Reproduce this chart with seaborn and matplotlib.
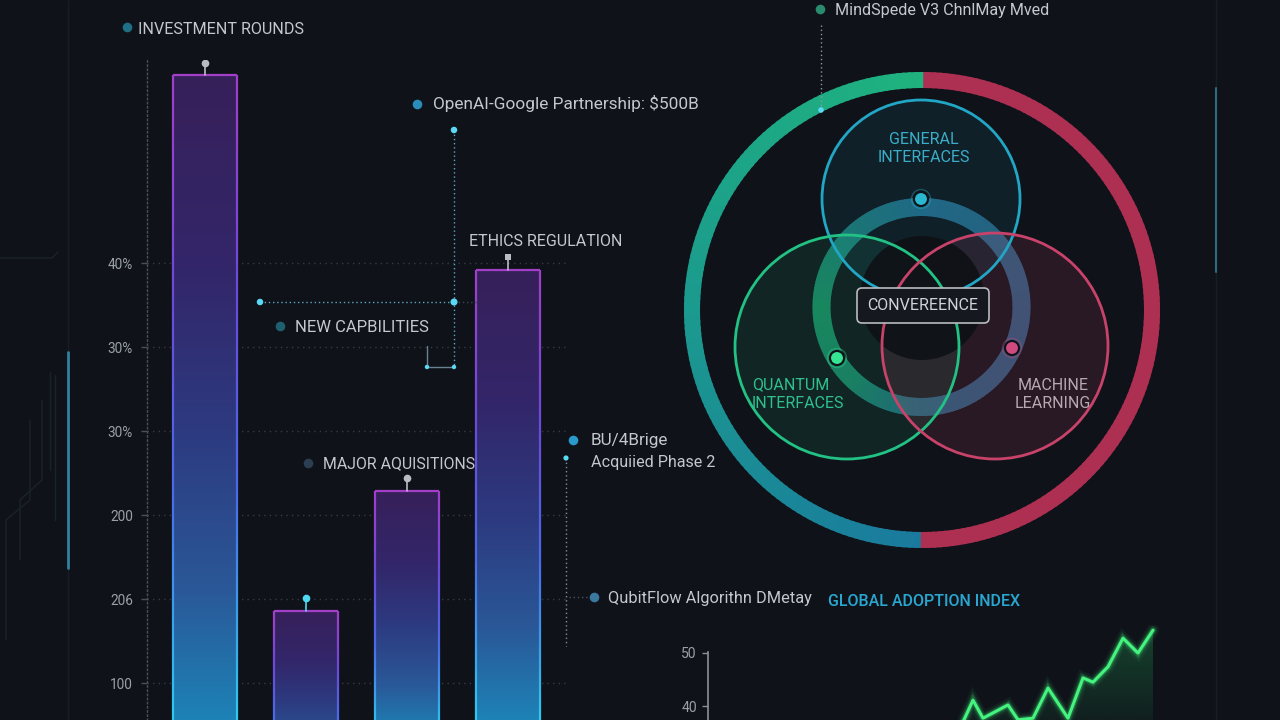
import numpy as np
import matplotlib
matplotlib.use("Agg")
import matplotlib.pyplot as plt
import seaborn as sns
from matplotlib.patches import Wedge, Circle, FancyBboxPatch
from matplotlib.collections import LineCollection
from matplotlib.colors import LinearSegmentedColormap, to_rgb

# ---------------- data ----------------
bar_categories = ["Round A", "Round B", "Round C", "Round D"]
bar_values = [824, 186, 329, 592]
stem_colors = ["#b8bcc4", "#4fd8f0", "#b8bcc4", "#b8bcc4"]
stem_markers = ["o", "o", "o", "s"]
bar_ticks = [100, 200, 300, 400, 500, 600]
bar_tick_labels = ["100", "206", "200", "30%", "30%", "40%"]

adoption_x = [51, 53, 55, 60, 62, 65, 68, 72, 75, 77, 80, 83, 86, 89]
adoption_y = [37.0, 41.1, 37.7, 40.2, 37.4, 37.7, 43.4, 37.7, 45.3, 44.5, 47.4, 52.8, 50.0, 54.3]
adoption_ticks = [40, 50]

venn_sets = ["GENERAL\nINTERFACES", "QUANTUM\nINTERFACES", "MACHINE\nLEARNING"]
venn_colors = ["#22a6c6", "#22c285", "#c8426a"]
venn_label_colors = ["#3aaec8", "#2fc08e", "#b8a8b0"]
venn_center_label = "CONVEREENCE"

BG = "#0f1319"
TXT = "#c4c8ce"

sns.set_theme(style="dark")
plt.rcParams["font.family"] = ["Roboto", "DejaVu Sans"]

fig = plt.figure(figsize=(12.8, 7.2), dpi=100)
fig.patch.set_facecolor(BG)

W, H = 1280.0, 720.0

# ---------------- background decoration axes ----------------
ax_bg = fig.add_axes([0, 0, 1, 1], zorder=0)
ax_bg.set_xlim(0, W); ax_bg.set_ylim(H, 0); ax_bg.axis("off")
ax_bg.patch.set_alpha(0)
ax_bg.plot([68, 68], [0, H], color="#161d26", lw=1)
ax_bg.plot([68, 68], [352, 568], color="#347f9f", lw=2)
ax_bg.plot([1216, 1216], [0, H], color="#161f28", lw=1)
ax_bg.plot([1216, 1216], [88, 272], color="#2d6a82", lw=1.5)
for xs, ys in [([0, 52, 58], [258, 258, 252]), ([50, 50], [372, 470]), ([42, 42, 20, 20], [400, 480, 500, 560]),
               ([30, 30, 6, 6], [420, 500, 520, 640]), ([55, 55], [375, 520])]:
    ax_bg.plot(xs, ys, color="#1a222b", lw=1)

# ---------------- bar chart ----------------
BAR_BOTTOM, BAR_TOP = 56.0, 842.0
ax_bar = fig.add_axes([147 / W, 0, 422 / W, 660 / H], zorder=1)
ax_bar.patch.set_alpha(0)
sns.barplot(x=bar_categories, y=bar_values, ax=ax_bar, width=0.634, color="#2a3f86",
            saturation=1, edgecolor="none")
ax_bar.set_xlim(-0.574, 3.6)
ax_bar.set_ylim(BAR_BOTTOM, BAR_TOP)

fill_cmap = LinearSegmentedColormap.from_list(
    "barfill", [(0, "#1d82b6"), (0.2, "#2a5898"), (0.45, "#2d3a80"), (0.7, "#33266a"), (1, "#37205a")])
edge_cmap = LinearSegmentedColormap.from_list(
    "baredge", [(0, "#2ec8ee"), (0.35, "#4a6ae8"), (0.65, "#6a4ad8"), (1, "#a23ec8")])

for i, p in enumerate(list(ax_bar.patches)):
    x0, w, top = p.get_x(), p.get_width(), p.get_y() + p.get_height()
    k = min(1.0, 0.4 + (top - BAR_BOTTOM) / 500.0)
    yy = np.linspace(0, top, 300)
    s = np.clip((yy - BAR_BOTTOM) / (top - BAR_BOTTOM), 0, 1)
    c = 1 - (1 - s) * k
    img = fill_cmap(c)[:, None, :]
    im = ax_bar.imshow(img, extent=[x0, x0 + w, 0, top], origin="lower", aspect="auto", zorder=2)
    im.set_clip_path(p)
    p.set_facecolor("none")
    ys = np.linspace(BAR_BOTTOM - 5, top, 80)
    cs = 1 - (1 - np.clip((ys - BAR_BOTTOM) / (top - BAR_BOTTOM), 0, 1)) * k
    for xe in (x0, x0 + w):
        segs = [[(xe, ys[j]), (xe, ys[j + 1])] for j in range(len(ys) - 1)]
        lc = LineCollection(segs, colors=edge_cmap(cs[:-1]), linewidths=1.6, zorder=3)
        ax_bar.add_collection(lc)
    ax_bar.plot([x0, x0 + w], [top, top], color=edge_cmap(1.0), lw=1.6, zorder=3, solid_capstyle="butt")
    cx = x0 + w / 2
    ax_bar.plot([cx, cx], [top, top + 15], color=stem_colors[i], lw=1.2, zorder=3)
    ax_bar.plot([cx], [top + 15], marker=stem_markers[i], color=stem_colors[i],
                markersize=5.5 if stem_markers[i] == "o" else 5, zorder=4, markeredgewidth=0)

ax_bar.set_ylim(BAR_BOTTOM, BAR_TOP)
ax_bar.set_xlim(-0.574, 3.6)
ax_bar.set_yticks(bar_ticks)
ax_bar.set_yticklabels(bar_tick_labels)
ax_bar.set_xticks([])
ax_bar.set_xlabel(""); ax_bar.set_ylabel("")
ax_bar.grid(axis="y", linestyle=(0, (1, 3)), color="#353b43", lw=1)
ax_bar.grid(axis="x", visible=False)
ax_bar.set_axisbelow(True)
for side in ("top", "right", "bottom"):
    ax_bar.spines[side].set_visible(False)
ax_bar.spines["left"].set_visible(True)
ax_bar.spines["left"].set_color("#4a5058")
ax_bar.spines["left"].set_linestyle((0, (1, 2)))
ax_bar.spines["left"].set_linewidth(1)
ax_bar.tick_params(axis="y", colors="#4a5058", labelcolor="#9aa0a8", length=4, width=1,
                   labelsize=9.8, pad=6, left=True)

# ---------------- adoption line chart ----------------
L_BOTTOM, L_TOP = 37.36, 55.28
ax_line = fig.add_axes([708 / W, 0, 460 / W, 95 / H], zorder=1)
ax_line.patch.set_alpha(0)
poly = ax_line.fill_between(adoption_x, adoption_y, L_BOTTOM, color="none", lw=0)
grad = np.zeros((200, 1, 4))
gc = to_rgb("#1f7a48")
grad[..., 0], grad[..., 1], grad[..., 2] = gc
grad[:, 0, 3] = np.linspace(0.12, 0.45, 200)
gim = ax_line.imshow(grad, extent=[min(adoption_x), max(adoption_x), L_BOTTOM, max(adoption_y)],
                     origin="lower", aspect="auto", zorder=1)
gim.set_clip_path(poly.get_paths()[0], transform=ax_line.transData)
for lw, a in [(9, 0.06), (6, 0.12), (4, 0.25)]:
    ax_line.plot(adoption_x, adoption_y, color="#3cf07a", lw=lw, alpha=a, zorder=2,
                 solid_joinstyle="miter")
sns.lineplot(x=adoption_x, y=adoption_y, ax=ax_line, color="#44f47e", lw=2.2, estimator=None, zorder=3)
ax_line.set_xlim(0, 92)
ax_line.set_ylim(L_BOTTOM, L_TOP)
ax_line.set_yticks(adoption_ticks)
ax_line.set_xticks([])
ax_line.set_xlabel(""); ax_line.set_ylabel("")
ax_line.grid(False)
for side in ("top", "right", "bottom"):
    ax_line.spines[side].set_visible(False)
ax_line.spines["left"].set_visible(True)
ax_line.spines["left"].set_color("#8a9098")
ax_line.spines["left"].set_linewidth(1.2)
ax_line.spines["left"].set_bounds(L_BOTTOM, 50.2)
ax_line.tick_params(axis="y", colors="#8a9098", labelcolor="#9aa0a8", length=4, width=1,
                    labelsize=10, pad=4, left=True)

# ---------------- overlay: venn + annotations ----------------
ax = fig.add_axes([0, 0, 1, 1], zorder=5)
ax.set_xlim(0, W); ax.set_ylim(H, 0); ax.axis("off")
ax.patch.set_alpha(0)


def lerp_colors(anchors, phi):
    angs = [a for a, _ in anchors]
    cols = np.array([to_rgb(c) for _, c in anchors])
    return tuple(np.array([np.interp(phi, angs, cols[:, j]) for j in range(3)]))


def ring(cx, cy, r, w, color_fn, n=240, z=3):
    for i in range(n):
        a0 = 360.0 * i / n
        a1 = 360.0 * (i + 1) / n
        col = color_fn((a0 + a1) / 2)
        ax.add_patch(Wedge((cx, cy), r, -a1 - 0.3, -a0 + 0.3, width=w, facecolor=col,
                           edgecolor="none", zorder=z))


VX, VY = 922, 310

left_anchor = [(90, "#1fb37e"), (180, "#1b9a8e"), (270, "#1a7a9e")]


def big_color(phi):
    if 90 <= phi <= 270:
        return lerp_colors(left_anchor, phi)
    return to_rgb("#ad2f52")


ring(VX, VY, 238, 16, big_color)

mid_anchor = [(0, "#2c5576"), (90, "#1f6380"), (180, "#17805a"), (225, "#18795e"),
              (270, "#225c78"), (315, "#2a5676"), (360, "#2c5576")]
ring(921.5, 307, 109, 18, lambda p: lerp_colors(mid_anchor, p), z=2)

venn_centers = [(921, 199), (847, 347), (995, 346)]
venn_radii = [99, 112, 113]
venn_fill_alpha = [0.09, 0.11, 0.14]
for (cx, cy), r, col, fa in zip(venn_centers, venn_radii, venn_colors, venn_fill_alpha):
    ax.add_patch(Circle((cx, cy), r, facecolor=col, alpha=fa, edgecolor="none", zorder=3))
ax.add_patch(Circle((922, 298), 62, facecolor="#0e1116", alpha=0.9, edgecolor="none", zorder=4))
for (cx, cy), r, col in zip(venn_centers, venn_radii, venn_colors):
    ax.add_patch(Circle((cx, cy), r, facecolor="none", edgecolor=col, lw=2, zorder=5))

for (mx, my), mc in zip([(921, 199), (837, 358), (1012, 348)], ["#2ab8d0", "#36e494", "#d04a80"]):
    ax.add_patch(Circle((mx, my), 9.5, facecolor="none", edgecolor=mc, lw=1, alpha=0.35, zorder=6))
    ax.add_patch(Circle((mx, my), 7, facecolor=mc, edgecolor="#0f1319", lw=1.5, zorder=6))

ax.add_patch(FancyBboxPatch((857, 288), 132, 35, boxstyle="round,pad=0,rounding_size=5",
                            facecolor="#15181e", edgecolor="#b8bcc0", lw=1.2, zorder=7))
ax.text(923, 305.5, venn_center_label, ha="center", va="center", color="#d0d3d8", fontsize=11.5, zorder=8)

ax.text(924, 148, venn_sets[0], ha="center", va="center", color=venn_label_colors[0],
        fontsize=11.5, linespacing=1.25, zorder=8)
ax.text(752, 394, venn_sets[1], ha="left", va="center", color=venn_label_colors[1],
        fontsize=11.5, linespacing=1.25, zorder=8)
ax.text(1053, 394, venn_sets[2], ha="center", va="center", color=venn_label_colors[2],
        fontsize=11.5, linespacing=1.25, zorder=8)

# dotted connectors
DOT = (0, (1, 2))
CY = "#5aa4c4"
ax.plot([454, 454], [130, 367], color=CY, lw=1, ls=DOT, zorder=4)
ax.plot([260, 454], [302, 302], color=CY, lw=1, ls=DOT, zorder=4)
ax.plot([454, 476], [302, 302], color="#3a4450", lw=1, ls=DOT, zorder=4)
ax.plot([427, 427, 454], [346, 367, 367], color="#6a8090", lw=1, zorder=4)
ax.plot([566, 566], [458, 646], color="#7a90a4", lw=1, ls=DOT, zorder=4)
ax.plot([569, 588], [597, 597], color="#4a5058", lw=1, ls=DOT, zorder=4)
ax.plot([821, 821], [25, 110], color="#8a96a0", lw=1, ls=DOT, zorder=4)
ax.scatter([260, 454, 454, 427, 454, 566, 821], [302, 302, 130, 367, 367, 458, 110],
           s=[22, 26, 22, 10, 10, 14, 16], color="#5ad8f4", zorder=6, linewidths=0)

# legend-like annotations
ann = [
    ((127, 27), "#1f6f86", (138, 29), "INVESTMENT ROUNDS", 11.6),
    ((417, 104), "#2a8cba", (433, 104), "OpenAI-Google Partnership: $500B", 12.4),
    ((280, 326), "#1f6070", (295, 328), "NEW CAPBILITIES", 12),
    ((308, 463), "#2b3e52", (323, 464), "MAJOR AQUISITIONS", 11.4),
    ((573, 440), "#2a9acb", (591, 441), "BU/4Brige", 12.3),
    ((594, 597), "#3a78a0", (608, 598), "QubitFlow Algorithn DMetay", 11.8),
    ((820, 9), "#2a8a6e", (835, 11), "MindSpede V3 ChnlMay Mved", 11.6),
]
for (dx, dy), dc, (tx, ty), t, fs in ann:
    ax.scatter([dx], [dy], s=48, color=dc, zorder=6, linewidths=0)
    ax.text(tx, ty, t, ha="left", va="center", color=TXT, fontsize=fs, zorder=8)
ax.text(591, 462, "Acquiied Phase 2", ha="left", va="center", color=TXT, fontsize=11.6, zorder=8)
ax.text(469, 242, "ETHICS REGULATION", ha="left", va="center", color=TXT, fontsize=11.5, zorder=8)
ax.text(828, 602, "GLOBAL ADOPTION INDEX", ha="left", va="center", color="#2aa6d0",
        fontsize=11.5, fontweight="medium", zorder=8)

fig.savefig("out.png", dpi=100, facecolor=BG)
